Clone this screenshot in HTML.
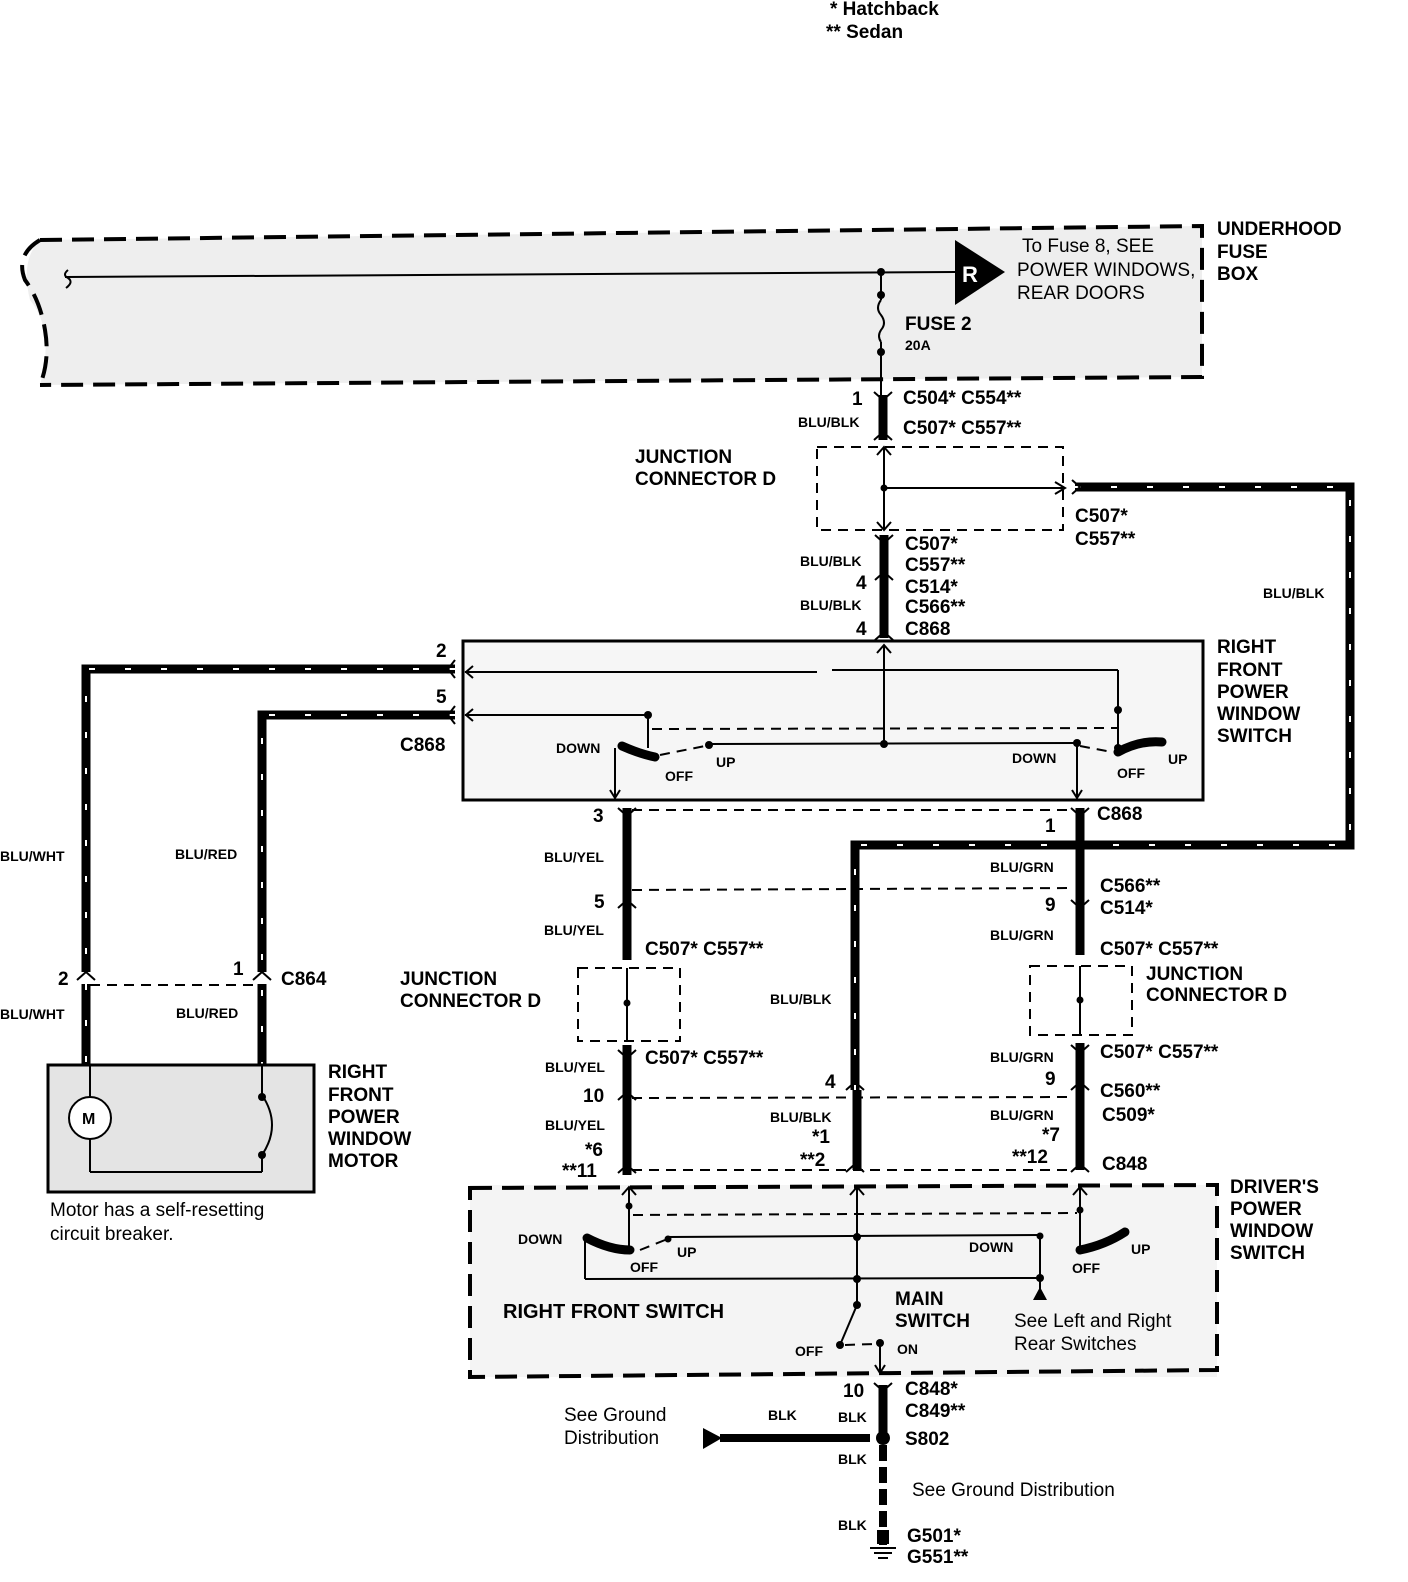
<!DOCTYPE html>
<html><head><meta charset="utf-8"><style>
html,body{margin:0;padding:0;background:#fff}
svg{display:block}
text{font-family:"Liberation Sans",Arial,sans-serif;font-weight:bold;fill:#000}
.s{font-size:14px}
.m{font-size:19px}
.n{font-size:19px;font-weight:normal}
.th{fill:none;stroke:#000;stroke-width:9}
.tw{fill:none;stroke:#fff;stroke-width:2;stroke-dasharray:6 30}
.ln{fill:none;stroke:#000;stroke-width:2}
.dl{fill:none;stroke:#000;stroke-width:2;stroke-dasharray:10 7}
.db{fill:none;stroke:#000;stroke-width:4;stroke-dasharray:22 10}
</style></head><body>
<svg width="1408" height="1582" viewBox="0 0 1408 1582" xmlns="http://www.w3.org/2000/svg">
<text x="830" y="15" class="m">*  Hatchback</text>
<text x="826" y="38" class="m">** Sedan</text>

<path d="M40 240 L1202 226 L1202 377 L40 385 Q55 330 30 300 Q20 260 40 240Z" fill="#eeeeee" stroke="none"/>
<path d="M40 240 L1202 226 L1202 377 L40 385" class="db"/>
<path d="M40 240 Q15 255 25 280 Q40 300 45 330 Q50 360 40 385" class="db"/>
<line x1="65" y1="277" x2="955" y2="272" class="ln"/>
<path d="M68 270 q-6 5 0 8 q6 4 -2 10" class="ln"/>
<path d="M955 240 L1005 272 L955 305Z" fill="#000"/>
<text x="962" y="282" font-size="22" style="fill:#fff">R</text>
<text x="1022" y="252" class="n" font-size="17">To Fuse 8, SEE</text>
<text x="1017" y="276" class="n" font-size="17">POWER WINDOWS,</text>
<text x="1017" y="299" class="n" font-size="17">REAR DOORS</text>
<text x="1217" y="235" class="m">UNDERHOOD</text>
<text x="1217" y="258" class="m">FUSE</text>
<text x="1217" y="280" class="m">BOX</text>
<circle cx="881" cy="272" r="4"/><circle cx="881" cy="295" r="4"/><circle cx="881" cy="352" r="4"/>
<line x1="881" y1="272" x2="881" y2="300" class="ln"/>
<path d="M881 300 q-6 8 0 15 q6 8 0 15 q-4 6 0 12" class="ln"/>
<line x1="881" y1="342" x2="881" y2="395" class="ln"/>
<text x="905" y="330" class="m">FUSE  2</text>
<text x="905" y="350" class="s">20A</text>

<line x1="883" y1="395" x2="883" y2="440" stroke="#000" stroke-width="9"/>
<path d="M874 392 l9 8 l9 -8 M874 440 l9 -8 l9 8" class="ln"/>
<text x="852" y="405" class="m">1</text>
<text x="903" y="404" class="m">C504*  C554**</text>
<text x="903" y="434" class="m">C507*  C557**</text>
<text x="798" y="427" class="s">BLU/BLK</text>
<text x="635" y="463" class="m">JUNCTION</text>
<text x="635" y="485" class="m">CONNECTOR D</text>
<rect x="817" y="447" width="246" height="83" class="dl"/>
<line x1="884" y1="447" x2="884" y2="530" class="ln"/>
<circle cx="884" cy="488" r="3.5"/>
<line x1="884" y1="488" x2="1063" y2="488" class="ln"/>
<path d="M1055 482 l10 6 l-10 6" class="ln"/>
<path d="M877 455 l7 -8 l7 8 M877 522 l7 8 l7 -8" class="ln"/>

<path d="M1075 487 L1350 487 L1350 845 L855 845 L855 1090" class="th"/>
<path d="M1075 487 L1350 487 L1350 845 L855 845 L855 1090" class="tw"/>
<path d="M1072 480 l8 7 l-8 7" class="ln"/>
<text x="1075" y="522" class="m">C507*</text>
<text x="1075" y="545" class="m">C557**</text>
<text x="1263" y="598" class="s">BLU/BLK</text>

<line x1="884" y1="535" x2="884" y2="638" stroke="#000" stroke-width="9"/>
<path d="M875 535 l9 8 l9 -8 M875 580 l9 -8 l9 8 M875 640 l9 -8 l9 8" class="ln"/>
<text x="905" y="550" class="m">C507*</text>
<text x="905" y="571" class="m">C557**</text>
<text x="905" y="593" class="m">C514*</text>
<text x="905" y="613" class="m">C566**</text>
<text x="905" y="635" class="m">C868</text>
<text x="856" y="589" class="m">4</text>
<text x="856" y="635" class="m">4</text>
<text x="800" y="566" class="s">BLU/BLK</text>
<text x="800" y="610" class="s">BLU/BLK</text>

<rect x="463" y="641" width="740" height="159" fill="#f6f6f6" stroke="#000" stroke-width="3"/>
<text x="1217" y="653" class="m">RIGHT</text>
<text x="1217" y="676" class="m">FRONT</text>
<text x="1217" y="698" class="m">POWER</text>
<text x="1217" y="720" class="m">WINDOW</text>
<text x="1217" y="742" class="m">SWITCH</text>
<line x1="884" y1="645" x2="884" y2="745" class="ln"/>
<path d="M877 653 l7 -8 l7 8" class="ln"/>
<line x1="465" y1="672" x2="817" y2="672" class="ln"/>
<line x1="832" y1="670" x2="1118" y2="670" class="ln"/>
<line x1="1118" y1="670" x2="1118" y2="748" class="ln"/>
<line x1="465" y1="715" x2="648" y2="715" class="ln"/>
<path d="M473 666 l-7 6 l7 6 M473 709 l-7 6 l7 6" class="ln"/>
<circle cx="648" cy="715" r="4"/><circle cx="1118" cy="710" r="4"/><circle cx="1118" cy="748" r="4"/>
<line x1="648" y1="715" x2="648" y2="748" class="ln"/>
<line x1="652" y1="729" x2="1118" y2="728" class="dl"/>
<path d="M622 746 Q640 754 655 757" stroke="#000" stroke-width="9" fill="none" stroke-linecap="round"/>
<path d="M1118 752 Q1140 740 1162 742" stroke="#000" stroke-width="9" fill="none" stroke-linecap="round"/>
<line x1="709" y1="744" x2="1077" y2="743" class="ln"/>
<circle cx="709" cy="745" r="4"/><circle cx="884" cy="744" r="4"/><circle cx="1077" cy="743" r="4"/>
<path d="M660 755 L705 746" class="dl"/>
<path d="M1080 746 L1112 752" class="dl"/>
<line x1="1077" y1="743" x2="1077" y2="798" class="ln"/>
<line x1="615" y1="748" x2="615" y2="798" class="ln"/>
<path d="M610 790 l5 8 l5 -8 M1072 790 l5 8 l5 -8" class="ln"/>
<text x="556" y="753" class="s">DOWN</text>
<text x="665" y="781" class="s">OFF</text>
<text x="716" y="767" class="s">UP</text>
<text x="1012" y="763" class="s">DOWN</text>
<text x="1117" y="778" class="s">OFF</text>
<text x="1168" y="764" class="s">UP</text>

<path d="M455 669 L86 669 L86 1065" class="th"/><path d="M455 669 L86 669 L86 1065" class="tw"/>
<path d="M455 715 L262 715 L262 1065" class="th"/><path d="M455 715 L262 715 L262 1065" class="tw"/>
<path d="M455 660 l-7 9 l7 9 M455 706 l-7 9 l7 9" class="ln"/>
<text x="436" y="657" class="m">2</text>
<text x="436" y="703" class="m">5</text>
<text x="400" y="751" class="m">C868</text>
<text x="0" y="861" class="s">BLU/WHT</text>
<text x="175" y="859" class="s">BLU/RED</text>
<text x="0" y="1019" class="s">BLU/WHT</text>
<text x="176" y="1018" class="s">BLU/RED</text>
<line x1="90" y1="985" x2="258" y2="985" class="dl"/>
<rect x="77" y="972" width="18" height="12" fill="#fff"/><rect x="253" y="972" width="18" height="12" fill="#fff"/>
<path d="M77 980 l9 -8 l9 8 M253 980 l9 -8 l9 8" class="ln"/>
<text x="58" y="985" class="m">2</text>
<text x="233" y="975" class="m">1</text>
<text x="281" y="985" class="m">C864</text>

<rect x="48" y="1065" width="266" height="127" fill="#e4e4e4" stroke="#000" stroke-width="3"/>
<line x1="90" y1="1065" x2="90" y2="1172" class="ln"/>
<line x1="90" y1="1172" x2="262" y2="1172" class="ln"/>
<line x1="262" y1="1065" x2="262" y2="1095" class="ln"/>
<line x1="262" y1="1155" x2="262" y2="1172" class="ln"/>
<path d="M262 1095 q20 30 0 60" class="ln"/>
<circle cx="262" cy="1097" r="4"/><circle cx="262" cy="1155" r="4"/>
<circle cx="90" cy="1118" r="21" fill="#fff" stroke="#000" stroke-width="2"/>
<text x="82" y="1124" font-size="16">M</text>
<text x="328" y="1078" class="m">RIGHT</text>
<text x="328" y="1101" class="m">FRONT</text>
<text x="328" y="1123" class="m">POWER</text>
<text x="328" y="1145" class="m">WINDOW</text>
<text x="328" y="1167" class="m">MOTOR</text>
<text x="50" y="1216" class="n">Motor has a self-resetting</text>
<text x="50" y="1240" class="n">circuit breaker.</text>

<line x1="627" y1="808" x2="627" y2="960" stroke="#000" stroke-width="9"/>
<line x1="627" y1="1045" x2="627" y2="1175" stroke="#000" stroke-width="9"/>
<path d="M618 808 l9 8 l9 -8 M618 908 l9 -8 l9 8 M618 1050 l9 8 l9 -8 M618 1100 l9 -8 l9 8 M618 1173 l9 -8 l9 8" class="ln"/>
<line x1="632" y1="890" x2="1072" y2="888" class="dl"/>
<line x1="632" y1="810" x2="1072" y2="810" class="dl"/>
<line x1="632" y1="1098" x2="1072" y2="1097" class="dl"/>
<line x1="632" y1="1170" x2="1072" y2="1170" class="dl"/>
<text x="593" y="822" class="m">3</text>
<text x="544" y="862" class="s">BLU/YEL</text>
<text x="594" y="908" class="m">5</text>
<text x="544" y="935" class="s">BLU/YEL</text>
<text x="645" y="955" class="m">C507*  C557**</text>
<text x="400" y="985" class="m">JUNCTION</text>
<text x="400" y="1007" class="m">CONNECTOR D</text>
<rect x="578" y="968" width="102" height="73" class="dl"/>
<line x1="627" y1="968" x2="627" y2="1041" class="ln"/><circle cx="627" cy="1003" r="3.5"/>
<text x="545" y="1072" class="s">BLU/YEL</text>
<text x="645" y="1064" class="m">C507*  C557**</text>
<text x="583" y="1102" class="m">10</text>
<text x="545" y="1130" class="s">BLU/YEL</text>
<text x="585" y="1156" class="m">*6</text>
<text x="562" y="1177" class="m">**11</text>

<path d="M846 1090 l9 -8 l9 8 M846 1172 l9 -8 l9 8" class="ln"/>
<line x1="857" y1="1090" x2="857" y2="1170" stroke="#000" stroke-width="9"/>
<text x="770" y="1004" class="s">BLU/BLK</text>
<text x="825" y="1088" class="m">4</text>
<text x="770" y="1122" class="s">BLU/BLK</text>
<text x="812" y="1143" class="m">*1</text>
<text x="800" y="1166" class="m">**2</text>

<line x1="1080" y1="808" x2="1080" y2="955" stroke="#000" stroke-width="9"/>
<line x1="1080" y1="1043" x2="1080" y2="1170" stroke="#000" stroke-width="9"/>
<path d="M1071 808 l9 8 l9 -8 M1071 900 l9 8 l9 -8 M1071 1045 l9 8 l9 -8 M1071 1090 l9 -8 l9 8 M1071 1172 l9 -8 l9 8" class="ln"/>
<text x="1097" y="820" class="m">C868</text>
<text x="1045" y="832" class="m">1</text>
<text x="990" y="872" class="s">BLU/GRN</text>
<text x="1100" y="892" class="m">C566**</text>
<text x="1045" y="911" class="m">9</text>
<text x="1100" y="914" class="m">C514*</text>
<text x="990" y="940" class="s">BLU/GRN</text>
<text x="1100" y="955" class="m">C507*  C557**</text>
<rect x="1030" y="966" width="102" height="69" class="dl"/>
<line x1="1080" y1="966" x2="1080" y2="1035" class="ln"/><circle cx="1080" cy="1000" r="3.5"/>
<text x="1146" y="980" class="m">JUNCTION</text>
<text x="1146" y="1001" class="m">CONNECTOR D</text>
<text x="990" y="1062" class="s">BLU/GRN</text>
<text x="1100" y="1058" class="m">C507*  C557**</text>
<text x="1045" y="1085" class="m">9</text>
<text x="1100" y="1097" class="m">C560**</text>
<text x="1102" y="1121" class="m">C509*</text>
<text x="990" y="1120" class="s">BLU/GRN</text>
<text x="1042" y="1141" class="m">*7</text>
<text x="1012" y="1163" class="m">**12</text>
<text x="1102" y="1170" class="m">C848</text>

<rect x="470" y="1185" width="747" height="192" fill="#f4f4f4" stroke="none"/>
<path d="M470 1188 L1217 1185 L1217 1370 L470 1377 Z" class="db"/>
<text x="1230" y="1193" class="m">DRIVER'S</text>
<text x="1230" y="1215" class="m">POWER</text>
<text x="1230" y="1237" class="m">WINDOW</text>
<text x="1230" y="1259" class="m">SWITCH</text>
<line x1="629" y1="1187" x2="629" y2="1250" class="ln"/>
<line x1="857" y1="1187" x2="857" y2="1280" class="ln"/>
<line x1="1080" y1="1187" x2="1080" y2="1250" class="ln"/>
<path d="M622 1195 l7 -8 l7 8 M850 1195 l7 -8 l7 8 M1073 1195 l7 -8 l7 8" class="ln"/>
<circle cx="629" cy="1206" r="3.5"/><circle cx="1080" cy="1210" r="3.5"/>
<line x1="633" y1="1215" x2="1077" y2="1213" class="dl"/>
<path d="M587 1238 Q610 1250 630 1250" stroke="#000" stroke-width="9" fill="none" stroke-linecap="round"/>
<path d="M1080 1250 Q1105 1245 1125 1232" stroke="#000" stroke-width="9" fill="none" stroke-linecap="round"/>
<line x1="668" y1="1237" x2="1040" y2="1235" class="ln"/>
<circle cx="668" cy="1239" r="3.5"/><circle cx="857" cy="1237" r="4"/><circle cx="1040" cy="1236" r="3.5"/>
<path d="M640 1250 L665 1240" class="dl"/>
<line x1="585" y1="1240" x2="585" y2="1279" class="ln"/>
<line x1="585" y1="1279" x2="1040" y2="1278" class="ln"/>
<line x1="1040" y1="1236" x2="1040" y2="1290" class="ln"/>
<circle cx="857" cy="1279" r="4"/><circle cx="1040" cy="1278" r="4"/>
<path d="M1033 1300 L1040 1287 L1047 1300Z" fill="#000"/>
<line x1="857" y1="1279" x2="857" y2="1305" class="ln"/>
<line x1="857" y1="1305" x2="840" y2="1345" class="ln"/>
<circle cx="857" cy="1305" r="4"/><circle cx="840" cy="1345" r="4"/><circle cx="880" cy="1343" r="4"/>
<line x1="845" y1="1345" x2="875" y2="1344" class="dl"/>
<line x1="880" y1="1343" x2="880" y2="1372" class="ln"/>
<path d="M875 1365 l5 8 l5 -8" class="ln"/>
<text x="518" y="1244" class="s">DOWN</text>
<text x="630" y="1272" class="s">OFF</text>
<text x="677" y="1257" class="s">UP</text>
<text x="969" y="1252" class="s">DOWN</text>
<text x="1072" y="1273" class="s">OFF</text>
<text x="1131" y="1254" class="s">UP</text>
<text x="503" y="1318" font-size="20" font-weight="bold">RIGHT FRONT SWITCH</text>
<text x="895" y="1305" class="m">MAIN</text>
<text x="895" y="1327" class="m">SWITCH</text>
<text x="1014" y="1327" class="n">See  Left and Right</text>
<text x="1014" y="1350" class="n">Rear Switches</text>
<text x="795" y="1356" class="s">OFF</text>
<text x="897" y="1354" class="s">ON</text>

<line x1="883" y1="1385" x2="883" y2="1440" stroke="#000" stroke-width="9"/>
<path d="M874 1383 l9 8 l9 -8" class="ln"/>
<text x="843" y="1397" class="m">10</text>
<text x="905" y="1395" class="m">C848*</text>
<text x="905" y="1417" class="m">C849**</text>
<text x="838" y="1422" class="s">BLK</text>
<text x="768" y="1420" class="s">BLK</text>
<circle cx="883" cy="1438" r="7"/>
<text x="905" y="1445" class="m">S802</text>
<line x1="720" y1="1438" x2="870" y2="1438" stroke="#000" stroke-width="8"/>
<path d="M703 1428 L722 1438 L703 1449Z" fill="#000"/>
<text x="564" y="1421" class="n">See Ground</text>
<text x="564" y="1444" class="n">Distribution</text>
<line x1="883" y1="1445" x2="883" y2="1545" stroke="#000" stroke-width="8" stroke-dasharray="16 6"/>
<text x="838" y="1464" class="s">BLK</text>
<text x="912" y="1496" class="n">See Ground Distribution</text>
<text x="838" y="1530" class="s">BLK</text>
<path d="M877 1530 h12 v14 h-12Z" fill="#000"/>
<line x1="870" y1="1548" x2="896" y2="1548" class="ln"/>
<line x1="874" y1="1553" x2="892" y2="1553" class="ln"/>
<line x1="878" y1="1558" x2="888" y2="1558" class="ln"/>
<text x="907" y="1542" class="m">G501*</text>
<text x="907" y="1563" class="m">G551**</text>
</svg>
</body></html>
